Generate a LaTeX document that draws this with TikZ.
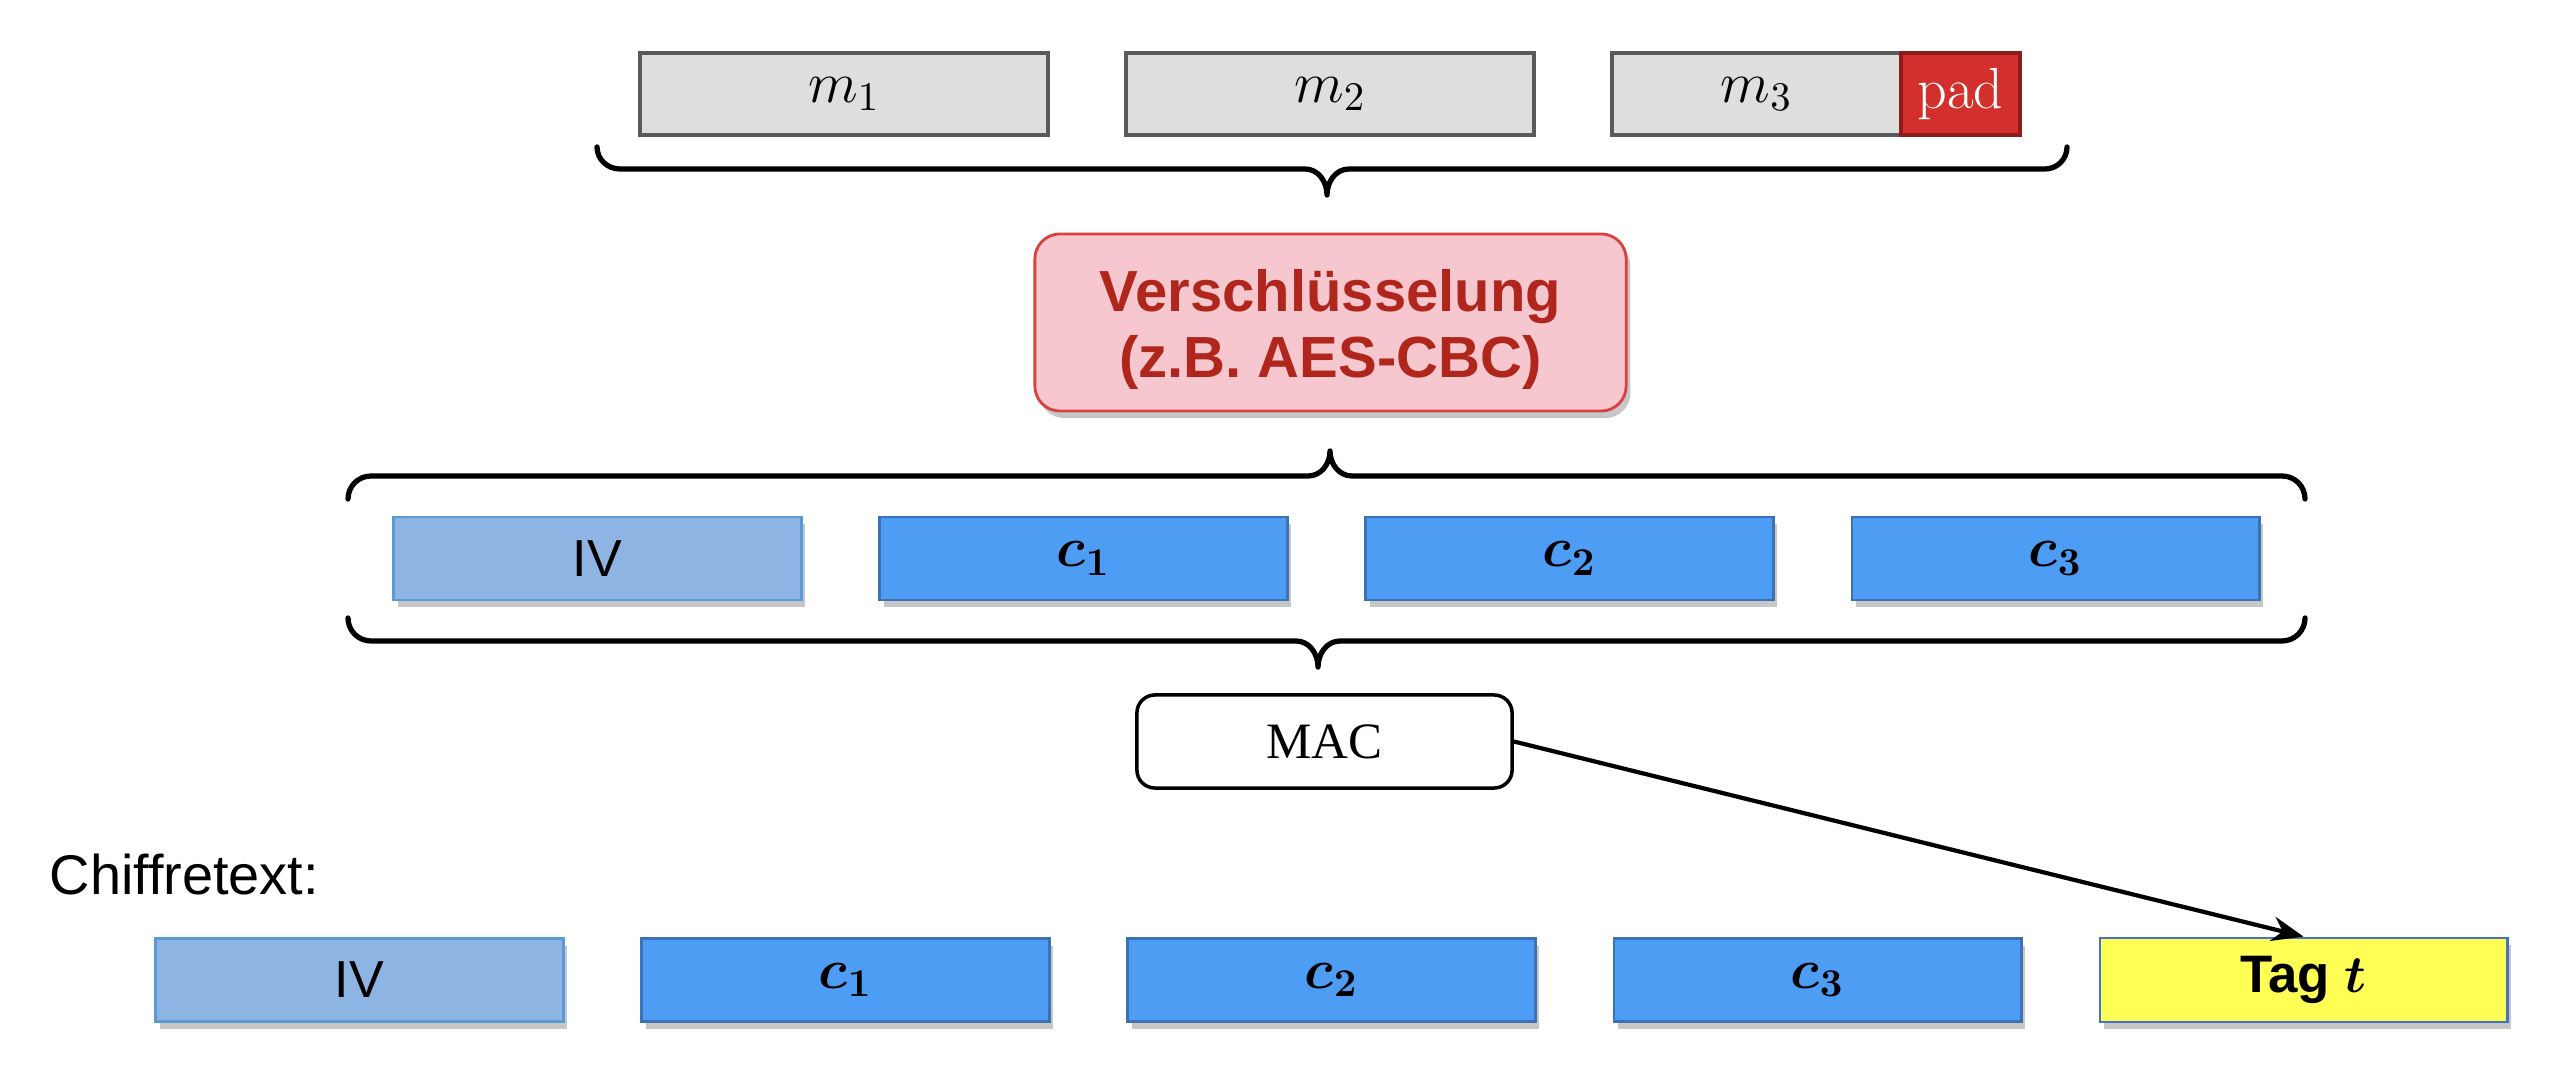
\RequirePackage{fix-cm}
\documentclass[tikz,border=0pt]{standalone}
\usepackage{fontspec}
\usepackage{bm}
\usetikzlibrary{shadows,arrows.meta}
\newfontfamily\arial{Liberation Sans}
\newfontfamily\serifrm{Liberation Serif}
\definecolor{greyfill}{HTML}{DEDEDE}
\definecolor{greyline}{HTML}{5A5A5A}
\definecolor{padfill}{HTML}{D32F2C}
\definecolor{padline}{HTML}{8E1C1A}
\definecolor{encfill}{HTML}{F6C7CE}
\definecolor{encline}{HTML}{DA4040}
\definecolor{enctext}{HTML}{B0261C}
\definecolor{ivfill}{HTML}{8DB4E2}
\definecolor{ivline}{HTML}{5B9BD5}
\definecolor{cfill}{HTML}{4D9DF5}
\definecolor{cline}{HTML}{3A72B5}
\definecolor{tagfill}{HTML}{FFFF55}
\definecolor{tagline}{HTML}{4472C4}
\tikzset{
  softshadow/.style={drop shadow={shadow xshift=1.2pt, shadow yshift=-2pt, opacity=0.22, fill=black}},
  mbox/.style={draw=greyline, fill=greyfill, line width=1pt, minimum height=0.82cm, inner sep=0pt,
    font=\fontsize{16.5pt}{19pt}\selectfont},
  padbox/.style={draw=padline, fill=padfill, line width=1pt, minimum width=1.19cm, minimum height=0.82cm, inner sep=0pt,
    text=white, font=\fontsize{16.5pt}{19pt}\selectfont},
  ivbox/.style={draw=ivline, fill=ivfill, line width=0.8pt, minimum width=4.07cm, minimum height=0.83cm, inner sep=0pt,
    softshadow, font=\arial\fontsize{14.8pt}{17pt}\selectfont},
  cbox/.style={draw=cline, fill=cfill, line width=0.8pt, minimum width=4.07cm, minimum height=0.83cm, inner sep=0pt,
    softshadow, font=\fontsize{16pt}{19pt}\selectfont},
  tagbox/.style={draw=tagline, fill=tagfill, line width=0.8pt, minimum width=4.07cm, minimum height=0.84cm, inner sep=0pt,
    softshadow, font=\arial\bfseries\fontsize{15pt}{18pt}\selectfont},
  encbox/.style={draw=encline, fill=encfill, line width=0.8pt, rounded corners=0.25cm,
    minimum width=5.91cm, minimum height=1.77cm, inner sep=0pt, text=enctext,
    softshadow, font=\arial\bfseries\fontsize{16.5pt}{18.6pt}\selectfont},
  macbox/.style={draw=black, fill=white, line width=1pt, rounded corners=0.18cm,
    minimum width=3.75cm, minimum height=0.93cm, inner sep=0pt, font=\serifrm\fontsize{14.5pt}{17pt}\selectfont},
  bracepath/.style={line width=1.5pt, black, line cap=round, line join=round},
  arrowline/.style={line width=1.2pt, -{Stealth[length=9pt,width=7pt]}}
}
\begin{document}
\begin{tikzpicture}[x=0.01cm,y=0.01cm]
\useasboundingbox (0,0) rectangle (2552,-1068);

% top row
\node[mbox, minimum width=4.08cm] (m1) at (844,-94) {$m_1$};
\node[mbox, minimum width=4.08cm] (m2) at (1330,-94) {$m_2$};
\node[mbox, minimum width=2.89cm] (m3) at (1756.5,-94) {$m_3$};
\node[padbox] (pad) at (1960.5,-94) {pad};

% top brace (tip down)
\draw[bracepath] (597,-147) to[out=-90,in=180] (620,-169) -- (1305,-169)
  to[out=0,in=90] (1327,-195) to[out=90,in=180] (1349,-169) -- (2045,-169)
  to[out=0,in=-90] (2067,-147);

% encryption
\node[encbox] (enc) at (1330.5,-322.5) {\raisebox{-2.5pt}[\height][\depth]{\begin{tabular}{@{}c@{}}Verschlüsselung\\(z.B. AES-CBC)\end{tabular}}};

% middle brace (tip up)
\draw[bracepath] (348,-499) to[out=90,in=180] (371,-476) -- (1308,-476)
  to[out=0,in=-90] (1330,-451) to[out=-90,in=180] (1352,-476) -- (2282,-476)
  to[out=0,in=90] (2305,-499);

% middle row
\node[ivbox] (iv1) at (597.5,-558.5) {IV};
\node[cbox] (c11) at (1083.5,-558.5) {$\bm{c}_{\bm{1}}$};
\node[cbox] (c21) at (1569.5,-558.5) {$\bm{c}_{\bm{2}}$};
\node[cbox] (c31) at (2055.5,-558.5) {$\bm{c}_{\bm{3}}$};

% lower brace (tip down)
\draw[bracepath] (348,-618) to[out=-90,in=180] (371,-641) -- (1296,-641)
  to[out=0,in=90] (1318,-667) to[out=90,in=180] (1340,-641) -- (2282,-641)
  to[out=0,in=-90] (2305,-618);

% MAC
\node[macbox] (mac) at (1324.5,-741.5) {MAC};

% Chiffretext label
\node[anchor=base west, inner sep=0pt, font=\arial\fontsize{15.9pt}{19pt}\selectfont] (chif) at (49,-895) {Chiffretext:};

% bottom row
\node[ivbox] (iv2) at (359.5,-980) {IV};
\node[cbox] (c12) at (845.5,-980) {$\bm{c}_{\bm{1}}$};
\node[cbox] (c22) at (1331.5,-980) {$\bm{c}_{\bm{2}}$};
\node[cbox] (c32) at (1817.5,-980) {$\bm{c}_{\bm{3}}$};
\node[tagbox] (tag) at (2303.5,-980) {Tag $\bm{t}$};

% arrow
\draw[arrowline] (mac.east) -- (tag.north);
\end{tikzpicture}
\end{document}
